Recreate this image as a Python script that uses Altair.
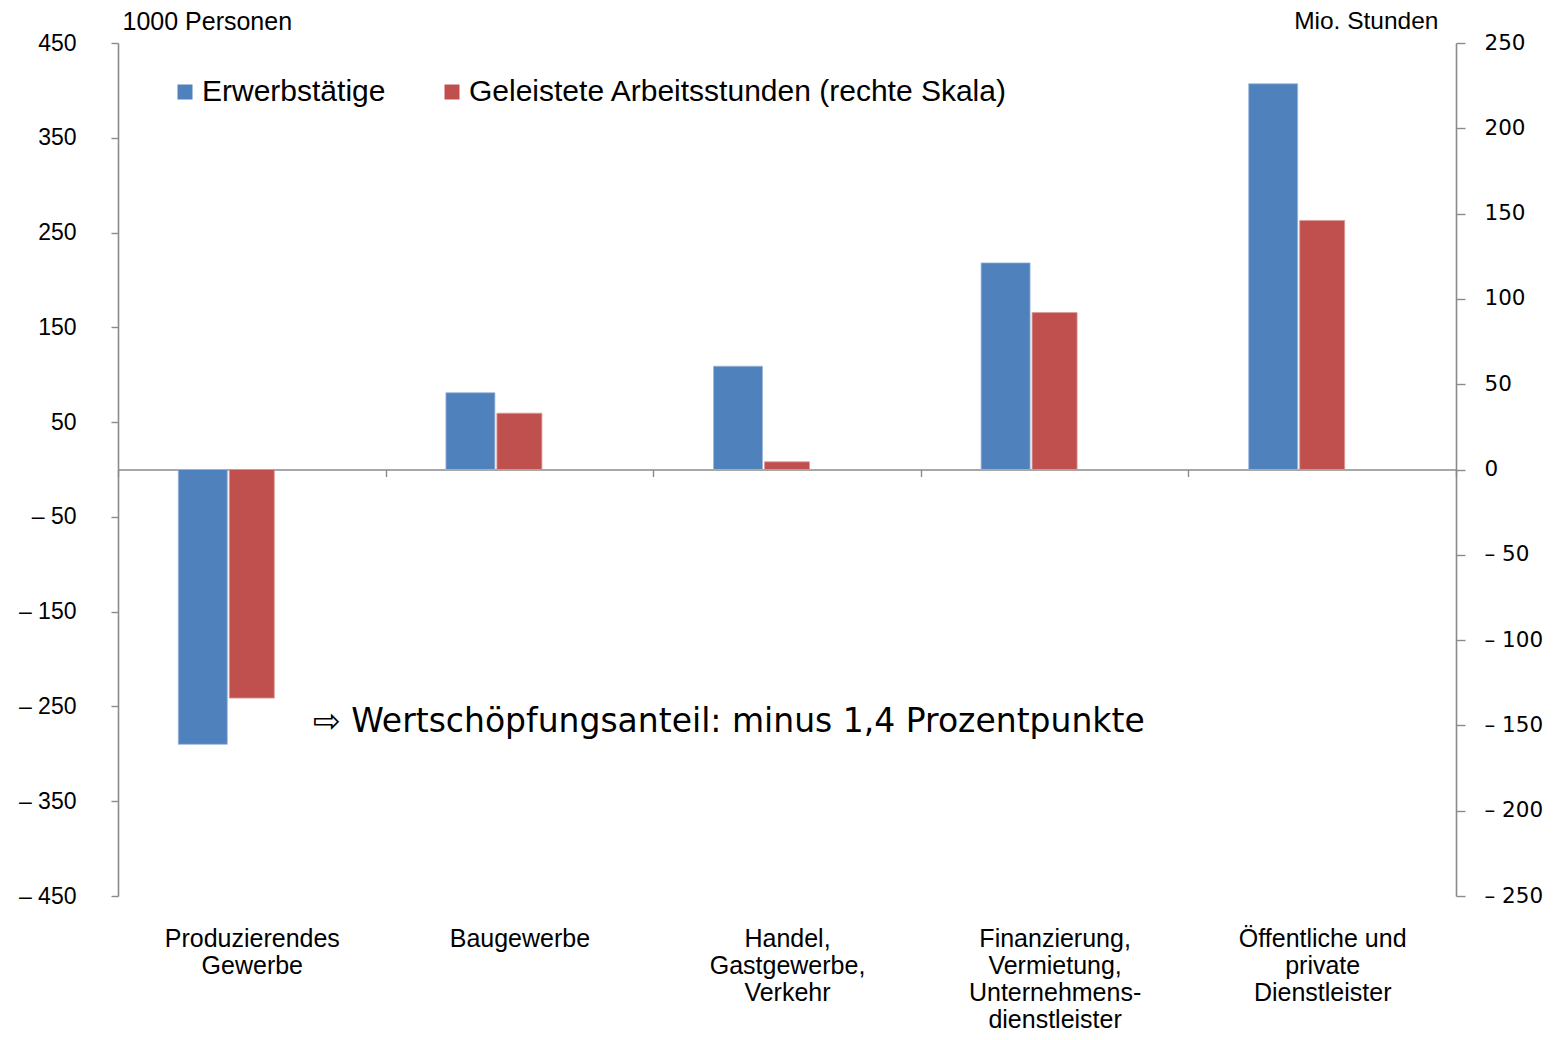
import altair as alt
import pandas as pd

categories = [
    "Produzierendes|Gewerbe",
    "Baugewerbe",
    "Handel,|Gastgewerbe,|Verkehr",
    "Finanzierung,|Vermietung,|Unternehmens-|dienstleister",
    "Öffentliche und|private|Dienstleister",
]
series_names = ["Erwerbstätige", "Geleistete Arbeitsstunden (rechte Skala)"]
erwerbstaetige = [-290, 81, 109, 218, 407]
arbeitsstunden = [-134, 33, 4.5, 92, 146]
left_ticks = [-450, -350, -250, -150, -50, 50, 150, 250, 350, 450]
right_ticks = [-250, -200, -150, -100, -50, 0, 50, 100, 150, 200, 250]
annotation = "⇨ Wertschöpfungsanteil: minus 1,4 Prozentpunkte"

W, H = 1338, 853
AXIS_COLOR = "#8a8a8a"
BLUE, RED = "#4F81BD", "#C0504D"

df = pd.DataFrame({
    "Kategorie": categories * 2,
    "Reihe": [series_names[0]] * 5 + [series_names[1]] * 5,
    "Wert": erwerbstaetige + arbeitsstunden,
})

x_axis = alt.Axis(
    title=None, labelAngle=0, orient="bottom", offset=-H / 2, grid=False,
    domainColor=AXIS_COLOR, domainWidth=1.6,
    tickColor=AXIS_COLOR, tickWidth=1.4, tickSize=7, tickBand="extent",
    labelPadding=450, labelFont="Liberation Sans", labelFontSize=25,
    labelLineHeight=27, labelColor="black", labelBaseline="top",
    labelExpr="split(datum.label, '|')", labelOverlap=False, labelLimit=400,
)
x_enc = alt.X("Kategorie:N", sort=categories,
              scale=alt.Scale(paddingInner=0, paddingOuter=0), axis=x_axis)

color_enc = alt.Color(
    "Reihe:N",
    scale=alt.Scale(domain=series_names, range=[BLUE, RED]),
    legend=alt.Legend(
        title=None, orient="none", direction="horizontal",
        legendX=52, legendY=34, padding=0,
        symbolType="square", symbolSize=225, symbolStrokeWidth=0, symbolOpacity=1,
        labelFont="Liberation Sans", labelFontSize=30, labelColor="black",
        labelOffset=2, columnPadding=51, labelLimit=800,
    ),
)

neg_expr = "datum.value < 0 ? '\u2013 ' + format(abs(datum.value), 'd') : format(datum.value, 'd')"

blue = alt.Chart(df).transform_filter(
    alt.datum.Reihe == series_names[0]
).mark_bar(width=49, xOffset=-49, stroke="#9fb8da", strokeWidth=0.8).encode(
    x=x_enc,
    y=alt.Y("Wert:Q", scale=alt.Scale(domain=[-450, 450], nice=False, zero=False),
            axis=alt.Axis(
                orient="left", values=left_ticks, grid=False,
                title="1000 Personen", titleAngle=0, titleAlign="left",
                titleBaseline="middle", titleX=4, titleY=-22,
                titleFont="Liberation Sans", titleFontSize=25, titleFontWeight="normal",
                titleColor="black",
                domainColor=AXIS_COLOR, domainWidth=1.6,
                tickColor=AXIS_COLOR, tickWidth=1.4, tickSize=7,
                labelPadding=35, labelFont="Liberation Sans", labelFontSize=23,
                labelColor="black", labelExpr=neg_expr,
            )),
    color=color_enc,
)

red = alt.Chart(df).transform_filter(
    alt.datum.Reihe == series_names[1]
).mark_bar(width=45, xOffset=0, stroke="#dc9a98", strokeWidth=0.8).encode(
    x=x_enc,
    y=alt.Y("Wert:Q", scale=alt.Scale(domain=[-250, 250], nice=False, zero=False),
            axis=alt.Axis(
                orient="right", values=right_ticks, grid=False,
                title="Mio. Stunden", titleAngle=0, titleAlign="right",
                titleBaseline="middle", titleX=-18, titleY=-22,
                titleFont="Liberation Sans", titleFontSize=24.5, titleFontWeight="normal",
                titleColor="black",
                domainColor=AXIS_COLOR, domainWidth=1.6,
                tickColor=AXIS_COLOR, tickWidth=1.4, tickSize=9,
                labelPadding=19, labelFont="DejaVu Sans", labelFontSize=21.5,
                labelColor="black", labelExpr=neg_expr, labelAlign="left",
            )),
    color=color_enc,
)

note = alt.Chart(pd.DataFrame({"t": [annotation]})).mark_text(
    align="left", baseline="middle", font="DejaVu Sans", fontSize=33, color="black",
).encode(
    text="t:N",
    x=alt.value(195),
    y=alt.value(679),
)

chart = alt.layer(blue, red, note).resolve_scale(y="independent").properties(
    width=W, height=H,
    padding={"left": 110, "top": 35, "right": 94, "bottom": 136},
    autosize=alt.AutoSizeParams(type="none"),
    view=alt.ViewBackground(stroke="transparent", strokeWidth=0, strokeOpacity=0),
).configure_axis(grid=False).configure(background="white")

chart.save("out.html", embed_options={"renderer": "svg", "actions": False})
